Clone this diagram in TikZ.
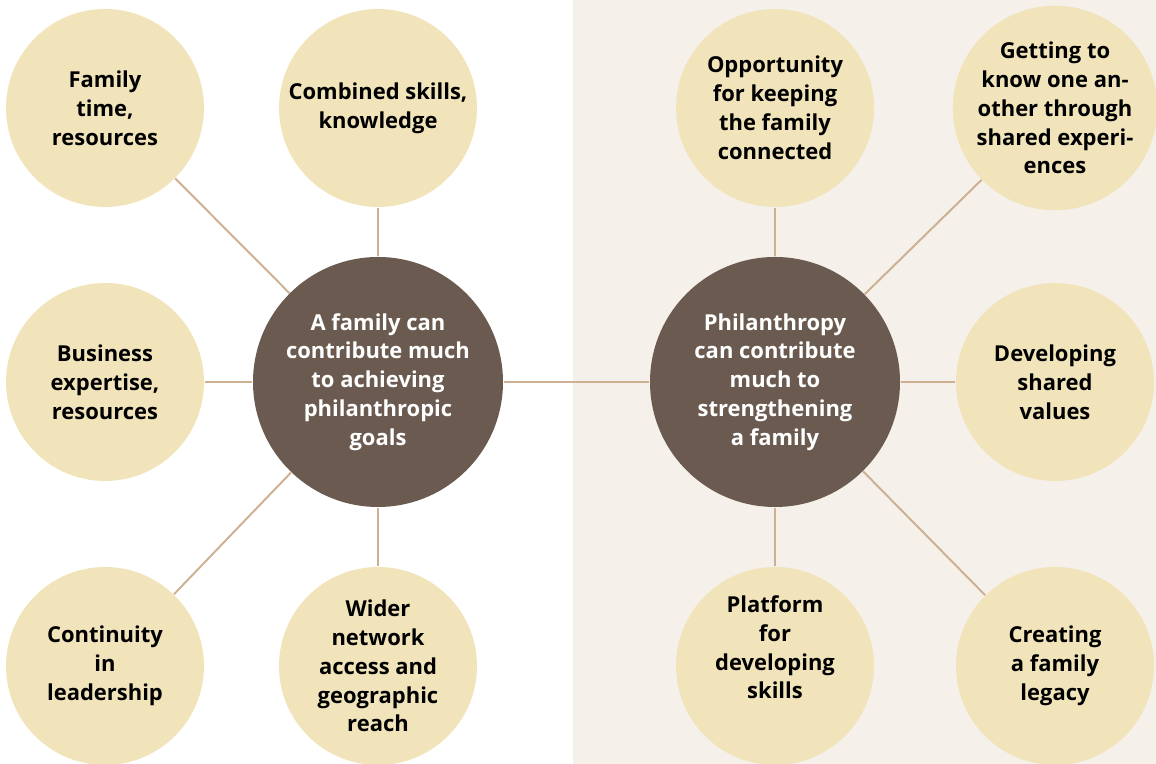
\documentclass[tikz,border=0pt]{standalone}
\usepackage{fontspec}
\setmainfont{Open Sans}
\definecolor{bubfill}{RGB}{241,228,187}
\definecolor{hubfill}{RGB}{106,90,80}
\definecolor{spoke}{RGB}{205,175,145}
\definecolor{rightbg}{RGB}{245,240,234}
\tikzstyle{bub}=[shape=circle,
                fill=bubfill,
                minimum size=3.96cm,
                inner sep=0pt,
                align=center,
                font=\fontsize{12.5}{16.4}\selectfont\bfseries]
\tikzstyle{hub}=[shape=circle,
                fill=hubfill,
                text=white,
                minimum size=5cm,
                inner sep=0pt,
                align=center,
                font=\fontsize{12.5}{16.4}\selectfont\bfseries]

\begin{document}
\begin{tikzpicture}[semithick]
\useasboundingbox (0,0) rectangle (23.12,15.28);

% shaded right half
\fill[rightbg] (11.46,0) rectangle (23.12,15.28);

% hubs
\node[hub] (h1) at (7.56, 7.64)  {A family can\\contribute much\\to achieving\\philanthropic\\goals};
\node[hub] (h2) at (15.50, 7.64) {Philanthropy\\can contribute\\much to\\strengthening\\a family};

% left bubbles
\node[bub] (l1) at (2.10, 13.12) {Family\\time,\\resources};
\node[bub] (l2) at (2.10, 7.64)  {Business\\expertise,\\resources};
\node[bub] (l3) at (2.10, 1.96)  {Continuity\\in\\leadership};
\node[bub] (l4) at (7.56, 13.12) {Combined skills,\\knowledge};
\node[bub] (l5) at (7.56, 1.96)  {Wider\\network\\access and\\geographic\\reach};

% right bubbles
\node[bub] (r1) at (15.50, 13.12) {Opportunity\\for keeping\\the family\\connected};
\node[bub] (r2) at (15.50, 1.96)  {Platform\\for\\developing\\skills\\\strut};
\node[bub] (r3) at (21.10, 13.12) {Getting to\\know one an-\\other through\\shared experi-\\ences};
\node[bub] (r4) at (21.10, 7.64)  {Developing\\shared\\values};
\node[bub] (r5) at (21.10, 1.96)  {Creating\\a family\\legacy};

% spokes
\path[draw=spoke,line width=1.1pt]
          (h1) edge (l1) (h1) edge (l2) (h1) edge (l3)
          (h1) edge (l4) (h1) edge (l5) (h1) edge (h2)
          (h2) edge (r1) (h2) edge (r2) (h2) edge (r3)
          (h2) edge (r4) (h2) edge (r5);
\end{tikzpicture}
\end{document}
